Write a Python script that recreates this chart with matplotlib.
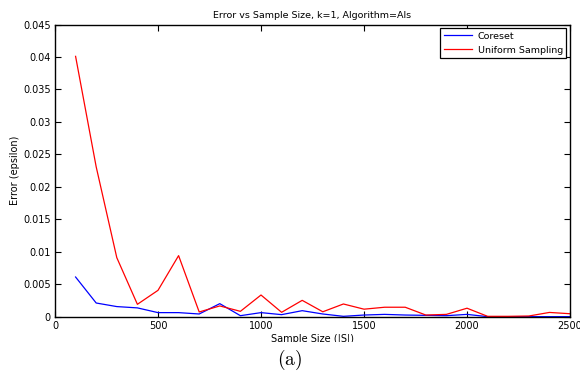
import matplotlib
matplotlib.use('Agg')
import matplotlib.pyplot as plt
from matplotlib.ticker import FuncFormatter
from matplotlib.patches import Rectangle

sample_sizes = list(range(100, 2600, 100))

coreset = [0.00615, 0.00215, 0.0016, 0.0014, 0.00067, 0.00067, 0.00046, 0.00205, 0.0002,
           0.00067, 0.00036, 0.00097, 0.00046, 0.0001, 0.0003, 0.0004, 0.0003, 0.00025,
           0.0002, 0.0004, 0.00005, 0.00005, 0.00005, 0.00005, 0.00005]

uniform = [0.0401, 0.0231, 0.00913, 0.00195, 0.0041, 0.00944, 0.00077, 0.0017, 0.00087,
           0.00338, 0.00072, 0.00256, 0.0008, 0.002, 0.0012, 0.0015, 0.0015, 0.0003,
           0.0004, 0.00135, 0.0001, 0.0001, 0.00015, 0.0007, 0.0005]

plt.rcParams['font.family'] = 'DejaVu Sans'
plt.rcParams['mathtext.fontset'] = 'cm'

fig = plt.figure(figsize=(5.8, 3.77), dpi=100)
ax = fig.add_axes([0.0948, 0.1592, 0.8880, 0.7758])

ax.plot(sample_sizes, coreset, color='blue', linewidth=0.9, label='Coreset')
ax.plot(sample_sizes, uniform, color='red', linewidth=0.9, label='Uniform Sampling')

ax.set_xlim(0, 2500)
ax.set_ylim(0, 0.045)
ax.set_xticks(range(0, 2501, 500))
ax.set_yticks([i * 0.005 for i in range(10)])
ax.yaxis.set_major_formatter(FuncFormatter(lambda v, p: '%g' % round(v, 4)))
ax.tick_params(direction='in', top=True, right=True, labelsize=7, length=4, width=0.8, pad=3)
for s in ax.spines.values():
    s.set_linewidth(1.0)

ax.set_title('Error vs Sample Size, k=1, Algorithm=Als', fontsize=6.8, pad=5)
ax.set_xlabel('Sample Size (|S|)', fontsize=7, labelpad=2)
ax.set_ylabel('Error (epsilon)', fontsize=7, labelpad=2)

leg = ax.legend(loc='upper right', fontsize=6.8, fancybox=False, framealpha=1,
                edgecolor='black', borderpad=0.35, handlelength=3.0, labelspacing=0.55,
                handletextpad=0.6, borderaxespad=0.4)
leg.get_frame().set_linewidth(0.9)

# the original figure was cropped right under the x label
fig.patches.append(Rectangle((0, 0.0), 1, 1 - 342 / 377, transform=fig.transFigure,
                             facecolor='white', edgecolor='none', zorder=5))
fig.text(0.5, 1 - 360 / 377, r'$\mathrm{(a)}$', ha='center', va='center', fontsize=14, zorder=6)

fig.savefig('out.png', dpi=100)
